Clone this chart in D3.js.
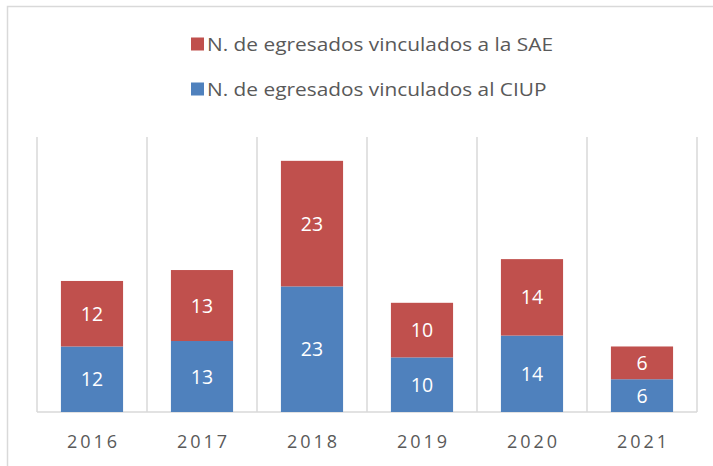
<!DOCTYPE html>
<html>
<head>
<meta charset="utf-8">
<script src="https://cdn.jsdelivr.net/npm/d3@7"></script>
<style>
  body { margin: 0; background: #fff; }
  text { font-family: "Open Sans", "Liberation Sans", sans-serif; }
</style>
</head>
<body>
<div id="chart"></div>
<script>
// data
var years = ["2016", "2017", "2018", "2019", "2020", "2021"];
var ciup = [12, 13, 23, 10, 14, 6];
var sae = [12, 13, 23, 10, 14, 6];
var seriesNames = ["N. de egresados vinculados a la SAE", "N. de egresados vinculados al CIUP"];
var colors = {ciup: "#4F81BD", sae: "#C0504D"};

var W = 713, H = 466;
var margin = {top: 139, right: 16, bottom: 54, left: 37};
var width = W - margin.left - margin.right,
    height = H - margin.top - margin.bottom;

var svg = d3.select("#chart").append("svg")
    .attr("width", W)
    .attr("height", H);

// outer frame
svg.append("rect")
    .attr("x", 7.5).attr("y", 6.5)
    .attr("width", 710).attr("height", 480)
    .attr("fill", "none")
    .attr("stroke", "#D9D9D9")
    .attr("stroke-width", 1.5);

var g = svg.append("g")
    .attr("transform", "translate(" + margin.left + "," + margin.top + ")");

var x = d3.scaleBand()
    .domain(years)
    .range([0, width])
    .paddingInner(0)
    .paddingOuter(0);

var y = d3.scaleLinear()
    .domain([0, 50])
    .range([height, 0]);

// vertical separators between categories
var edges = years.map(function(d) { return x(d); }).concat([width]);
g.selectAll(".sep")
    .data(edges)
    .enter().append("line")
    .attr("x1", function(d) { return d; })
    .attr("x2", function(d) { return d; })
    .attr("y1", -2)
    .attr("y2", height)
    .attr("stroke", "#D9D9D9")
    .attr("stroke-width", 1.5);

// baseline
g.append("line")
    .attr("x1", 0).attr("x2", width)
    .attr("y1", height).attr("y2", height)
    .attr("stroke", "#D9D9D9")
    .attr("stroke-width", 1.5);

var barW = x.bandwidth() * 0.565;
var rows = years.map(function(d, i) { return {year: d, ciup: ciup[i], sae: sae[i]}; });

// blue bottom segment
g.selectAll(".ciup")
    .data(rows)
    .enter().append("rect")
    .attr("x", function(d) { return x(d.year) + (x.bandwidth() - barW) / 2; })
    .attr("width", barW)
    .attr("y", function(d) { return y(d.ciup); })
    .attr("height", function(d) { return y(0) - y(d.ciup); })
    .attr("fill", colors.ciup);

// red top segment
g.selectAll(".sae")
    .data(rows)
    .enter().append("rect")
    .attr("x", function(d) { return x(d.year) + (x.bandwidth() - barW) / 2; })
    .attr("width", barW)
    .attr("y", function(d) { return y(d.ciup + d.sae); })
    .attr("height", function(d) { return y(d.ciup) - y(d.ciup + d.sae); })
    .attr("fill", colors.sae);

// data labels
g.selectAll(".lblC")
    .data(rows)
    .enter().append("text")
    .attr("x", function(d) { return x(d.year) + x.bandwidth() / 2; })
    .attr("y", function(d) { return (y(0) + y(d.ciup)) / 2; })
    .attr("dy", "0.36em")
    .attr("text-anchor", "middle")
    .attr("fill", "#fff")
    .style("font-size", "19.5px")
    .text(function(d) { return d.ciup; });

g.selectAll(".lblS")
    .data(rows)
    .enter().append("text")
    .attr("x", function(d) { return x(d.year) + x.bandwidth() / 2; })
    .attr("y", function(d) { return (y(d.ciup) + y(d.ciup + d.sae)) / 2; })
    .attr("dy", "0.36em")
    .attr("text-anchor", "middle")
    .attr("fill", "#fff")
    .style("font-size", "19.5px")
    .text(function(d) { return d.sae; });

// x axis labels
g.selectAll(".year")
    .data(years)
    .enter().append("text")
    .attr("x", function(d) { return x(d) + x.bandwidth() / 2 + 1.5; })
    .attr("y", height + 35.5)
    .attr("text-anchor", "middle")
    .attr("fill", "#595959")
    .style("font-size", "18px")
    .style("letter-spacing", "3px")
    .text(function(d) { return d; });

// legend
var legend = svg.append("g");
var legendRows = [
  {name: seriesNames[0], color: colors.sae, y: 51},
  {name: seriesNames[1], color: colors.ciup, y: 96}
];
legendRows.forEach(function(r) {
  legend.append("rect")
      .attr("x", 191).attr("y", r.y - 13.5)
      .attr("width", 13).attr("height", 13)
      .attr("fill", r.color);
  legend.append("text")
      .attr("x", 0).attr("y", 0)
      .attr("fill", "#595959")
      .style("font-size", "18.7px")
      .attr("data-y", r.y)
      .text(r.name);
});
// squeeze legend text horizontally like the narrow original font
var t0 = legend.selectAll("text").nodes()[0];
var sx = 346 / t0.getComputedTextLength();
legend.selectAll("text")
    .attr("transform", function() {
      return "translate(207," + this.getAttribute("data-y") + ") scale(" + sx + ",1)";
    });
</script>
</body>
</html>
